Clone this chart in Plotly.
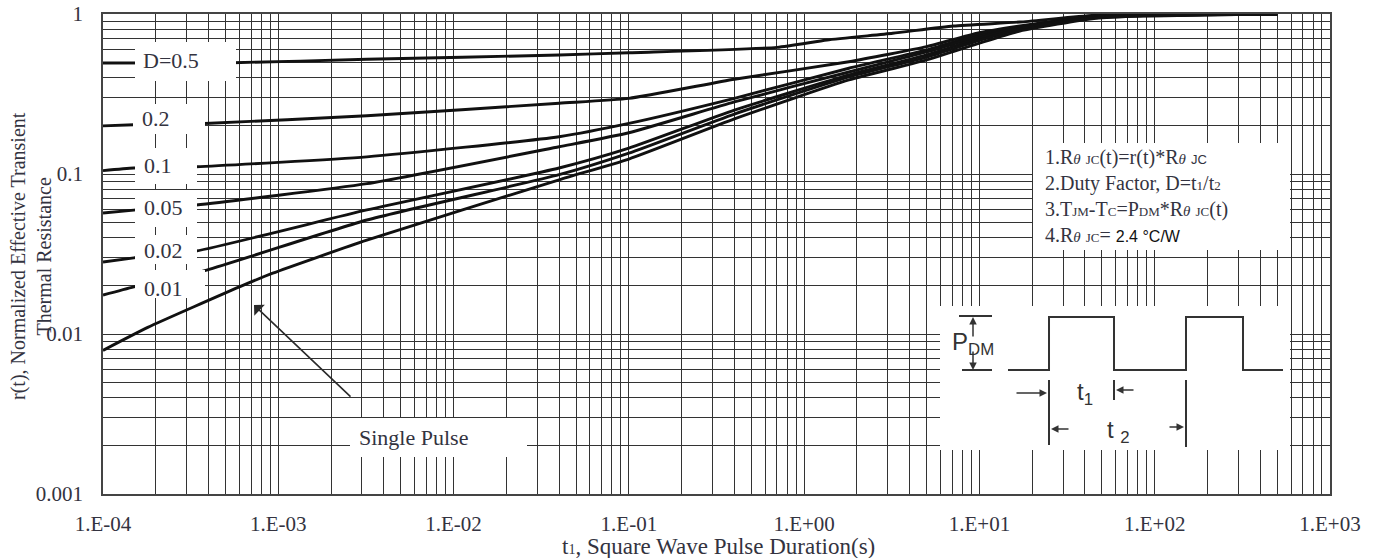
import plotly.graph_objects as go

# ---------------- data ----------------
t_d50 = [1e-4, 5.5e-4, 3.2e-3, 0.04, 0.1, 0.7, 1.35, 3.2, 7.1, 17, 48, 500]
r_d50 = [0.494, 0.496, 0.521, 0.554, 0.573, 0.619, 0.688, 0.758, 0.841, 0.891, 0.986, 1.0]

t_d20 = [1e-4, 1.5e-4, 3.8e-4, 3.2e-3, 0.04, 0.1, 0.4, 1.8, 5, 9.7, 17, 48, 500]
r_d20 = [0.200, 0.203, 0.207, 0.231, 0.277, 0.297, 0.391, 0.503, 0.625, 0.758, 0.841, 0.972, 1.0]

t_d10 = [1e-4, 1.5e-4, 3.4e-4, 3.2e-3, 0.04, 0.1, 0.4, 1.8, 5, 9.7, 17, 48, 500]
r_d10 = [0.105, 0.109, 0.111, 0.128, 0.171, 0.207, 0.297, 0.458, 0.596, 0.739, 0.829, 0.972, 1.0]

t_d05 = [1e-4, 1.5e-4, 3.4e-4, 3.2e-3, 0.04, 0.1, 0.4, 1.8, 5, 9.7, 17, 48, 500]
r_d05 = [0.057, 0.0595, 0.064, 0.087, 0.148, 0.181, 0.282, 0.434, 0.579, 0.718, 0.823, 0.965, 1.0]

t_d02 = [1e-4, 1.5e-4, 3.4e-4, 3.2e-3, 0.04, 0.1, 0.4, 1.8, 5, 9.7, 17, 48, 500]
r_d02 = [0.0282, 0.0299, 0.033, 0.0596, 0.109, 0.145, 0.251, 0.416, 0.555, 0.698, 0.818, 0.958, 1.0]

t_d01 = [1e-4, 1.5e-4, 3.9e-4, 3.2e-3, 0.04, 0.1, 0.4, 1.8, 5, 9.7, 17, 48, 500]
r_d01 = [0.0175, 0.0197, 0.0251, 0.0516, 0.099, 0.135, 0.237, 0.404, 0.538, 0.678, 0.806, 0.951, 1.0]

t_single = [1e-4, 1.8e-4, 6e-4, 9.3e-4, 3.2e-3, 0.04, 0.1, 0.4, 1.8, 5, 9.7, 17, 48, 500]
r_single = [0.0079, 0.011, 0.0197, 0.024, 0.0386, 0.092, 0.124, 0.221, 0.387, 0.516, 0.65, 0.783, 0.944, 1.0]

x_tickvals = [1e-4, 1e-3, 1e-2, 1e-1, 1e0, 1e1, 1e2, 1e3]
x_ticktext = ["1.E-04", "1.E-03", "1.E-02", "1.E-01", "1.E+00", "1.E+01", "1.E+02", "1.E+03"]
y_tickvals = [0.001, 0.01, 0.1, 1]
y_ticktext = ["0.001", "0.01", "0.1", "1"]

duty_labels = ["D=0.5", "0.2", "0.1", "0.05", "0.02", "0.01"]

# ---------------- layout geometry ----------------
W, H = 1380, 558
ML, MR, MT, MB = 103, 50, 14, 64
PW = W - ML - MR
PH = H - MT - MB


def px(x):
    return (x - ML) / PW


def py(y):
    return (H - MB - y) / PH


SERIF = "Liberation Serif"
SANS = "Liberation Sans"
TXT = "#333340"

series = [
    (t_d50, r_d50), (t_d20, r_d20), (t_d10, r_d10), (t_d05, r_d05),
    (t_d02, r_d02), (t_d01, r_d01), (t_single, r_single),
]

fig = go.Figure()
for tt, rr in series:
    fig.add_trace(go.Scatter(x=tt, y=rr, mode="lines",
                             line=dict(color="#111111", width=2.9, shape="spline", smoothing=0.5),
                             showlegend=False, hoverinfo="skip"))

minor_x = [k * 10.0 ** d for d in range(-4, 3) for k in range(2, 10)]
minor_y = [k * 10.0 ** d for d in range(-3, 0) for k in range(2, 10)]

GRID = "#333333"
GW = 1.4
fig.update_xaxes(type="log", range=[-4, 3], tickvals=x_tickvals, ticktext=x_ticktext,
                 showgrid=True, gridcolor=GRID, gridwidth=GW,
                 minor=dict(tickvals=minor_x, showgrid=True, gridcolor=GRID, gridwidth=GW, ticks=""),
                 showline=True, linecolor="#444444", linewidth=1.6, mirror=True,
                 ticks="", ticklabelstandoff=10,
                 tickfont=dict(family=SERIF, size=21, color=TXT), zeroline=False)
fig.update_yaxes(type="log", range=[-3, 0], tickvals=y_tickvals, ticktext=y_ticktext,
                 showgrid=True, gridcolor=GRID, gridwidth=GW,
                 minor=dict(tickvals=minor_y, showgrid=True, gridcolor=GRID, gridwidth=GW, ticks=""),
                 showline=True, linecolor="#444444", linewidth=1.6, mirror=True,
                 ticks="", ticklabelstandoff=14,
                 tickfont=dict(family=SERIF, size=21, color=TXT), zeroline=False)

shapes = []
annotations = []

# white label boxes (px: x0, x1, y0, y1) and label text anchors (px)
label_boxes_px = [(135, 236, 42, 81), (133, 205, 104, 134), (135, 197, 148, 184),
                  (135, 197, 190, 227), (135, 197, 235, 264), (135, 205, 270, 298)]
label_pos_px = [(141, 60), (140, 118), (142, 165), (142, 207), (142, 250), (142, 288)]


def white_box(x0, x1, y0, y1):
    shapes.append(dict(type="rect", xref="paper", yref="paper",
                       x0=px(x0), x1=px(x1), y0=py(y1), y1=py(y0),
                       fillcolor="white", line=dict(width=0), layer="above"))


for (bx0, bx1, by0, by1), (lx, ly), lab in zip(label_boxes_px, label_pos_px, duty_labels):
    white_box(bx0, bx1, by0, by1)
    annotations.append(dict(xref="paper", yref="paper", x=px(lx), y=py(ly),
                            xanchor="left", yanchor="middle", showarrow=False,
                            text=lab, font=dict(family=SERIF, size=22, color=TXT)))

# Single pulse label + arrow
white_box(350, 527, 418, 457)
annotations.append(dict(xref="paper", yref="paper", x=px(357), y=py(437),
                        xanchor="left", yanchor="middle", showarrow=False,
                        text="Single Pulse", font=dict(family=SERIF, size=22, color=TXT)))
annotations.append(dict(xref="paper", yref="paper", x=px(254), y=py(305), text="",
                        showarrow=True, ax=352 - 254, ay=398 - 305, axref="pixel", ayref="pixel",
                        arrowhead=1, arrowsize=1.6, arrowwidth=1.6, arrowcolor="#2a2a2a", standoff=0))

# Notes box
white_box(1033, 1290, 143, 250)
sm = "<span style='font-size:13px'>{}</span>"
th = "<span style='font-size:15px'><i>θ</i></span>"
notes = "<br>".join([
    "1.R" + th + " " + sm.format("JC") + "(t)=r(t)*R" + th + " " + "<span style='font-size:13px;font-family:Liberation Sans'>JC</span>",
    "2.Duty Factor, D=t" + sm.format("1") + "/t" + sm.format("2"),
    "3.T" + sm.format("JM") + "-T" + sm.format("C") + "=P" + sm.format("DM") + "*R" + th + " " + sm.format("JC") + "(t)",
    "4.R" + th + " " + sm.format("JC") + "= <span style='font-family:Liberation Sans;font-size:16px;color:#111'>2.4 °C/W</span>",
])
annotations.append(dict(xref="paper", yref="paper", x=px(1043), y=py(196),
                        xanchor="left", yanchor="middle", align="left", showarrow=False,
                        text=notes, font=dict(family=SERIF, size=20, color=TXT)))

# Pulse diagram box
white_box(940, 1290, 306, 450)
pulse_wave_px = [(1008, 370), (1049, 370), (1049, 317), (1114, 317), (1114, 370),
                 (1186, 370), (1186, 317), (1243, 317), (1243, 370), (1283, 370)]
path = "M " + " L ".join(f"{px(x):.5f},{py(y):.5f}" for x, y in pulse_wave_px)
shapes.append(dict(type="path", xref="paper", yref="paper", path=path,
                   line=dict(color="#333333", width=2), layer="above"))
marker_lines_px = [((1049, 380), (1049, 445)), ((1114, 380), (1114, 400)),
                   ((1186, 380), (1186, 447)), ((959, 316), (992, 316)), ((962, 370), (992, 370))]
for (x0, y0), (x1, y1) in marker_lines_px:
    shapes.append(dict(type="line", xref="paper", yref="paper",
                       x0=px(x0), y0=py(y0), x1=px(x1), y1=py(y1),
                       line=dict(color="#333333", width=2), layer="above"))
arrows_px = [((973, 317), (973, 338)), ((973, 370), (973, 350)),
             ((1047, 393), (1015, 393)), ((1116, 390), (1135, 390)),
             ((1051, 429), (1070, 429)), ((1184, 427), (1168, 427))]
for (hx, hy), (tx, ty) in arrows_px:
    annotations.append(dict(xref="paper", yref="paper", x=px(hx), y=py(hy), text="",
                            showarrow=True, ax=tx - hx, ay=ty - hy, axref="pixel", ayref="pixel",
                            arrowhead=2, arrowsize=1, arrowwidth=1.5, arrowcolor="#333333", standoff=0))
diagram_text = [("P<sub>DM</sub>", 950, 343), ("t<sub>1</sub>", 1075, 393), ("t <sub>2</sub>", 1105, 431)]
for txt, x, y in diagram_text:
    annotations.append(dict(xref="paper", yref="paper", x=px(x), y=py(y), text=txt,
                            xanchor="left", yanchor="middle", showarrow=False,
                            font=dict(family=SANS, size=24, color="#333333")))

# axis titles
annotations.append(dict(xref="paper", yref="paper", x=px(718), y=py(546),
                        xanchor="center", yanchor="middle", showarrow=False,
                        text="t<span style='font-size:14px'>1</span>, Square Wave Pulse Duration(s)",
                        font=dict(family=SERIF, size=23, color=TXT)))
annotations.append(dict(xref="paper", yref="paper", x=px(31), y=py(256),
                        xanchor="center", yanchor="middle", showarrow=False, textangle=-90,
                        text="r(t), Normalized Effective Transient<br>Thermal Resistance",
                        font=dict(family=SERIF, size=20, color=TXT)))

fig.update_layout(width=W, height=H, margin=dict(l=ML, r=MR, t=MT, b=MB, autoexpand=False),
                  paper_bgcolor="white", plot_bgcolor="white",
                  shapes=shapes, annotations=annotations, showlegend=False)

fig.write_html("out.html")
